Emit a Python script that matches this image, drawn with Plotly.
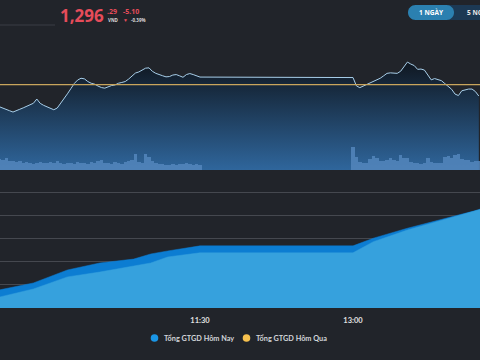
import plotly.graph_objects as go
import pandas as pd

DAY = "2024-01-02 "

# ---------------- data ----------------
ref_price = 1301.39
last_price_int = "1,296"
last_price_dec = ".29"
change_abs = "-5.10"
change_pct = "-0.39%"

morning_times = pd.date_range(DAY + "09:32", DAY + "11:30", freq="2min")
afternoon_times = pd.date_range(DAY + "13:00", DAY + "14:14", freq="2min")

price_morning = [
    1291.52, 1291.03, 1290.50, 1289.75, 1289.17, 1289.92, 1290.41, 1291.03, 1291.61, 1292.28,
    1293.08, 1294.95, 1293.03, 1292.15, 1291.52, 1290.95, 1290.19, 1290.95, 1292.95, 1294.95,
    1297.26, 1299.52, 1301.83, 1303.39, 1304.19, 1303.92, 1302.72, 1301.97, 1301.57, 1300.72,
    1300.06, 1299.79, 1300.50, 1300.95, 1301.21, 1301.97, 1302.32, 1302.72, 1303.83, 1305.26,
    1306.50, 1306.99, 1307.83, 1308.68, 1308.81, 1307.26, 1306.37, 1305.70, 1305.30, 1304.81,
    1304.95, 1305.61, 1305.83, 1305.26, 1304.63, 1305.83, 1306.28, 1305.83, 1305.26, 1304.72,
]
price_afternoon = [
    1304.50, 1300.81, 1300.01, 1300.72, 1301.52, 1302.06, 1302.63, 1303.39, 1304.19, 1305.26,
    1306.37, 1306.59, 1306.37, 1306.37, 1307.30, 1309.61, 1311.39, 1310.50, 1309.83, 1308.15,
    1308.28, 1307.83, 1305.61, 1303.48, 1304.06, 1303.75, 1303.12, 1301.83, 1300.50, 1299.30,
    1297.17, 1296.50, 1298.63, 1299.17, 1299.39, 1299.39, 1298.28, 1296.29,
]
vol_morning = [
    11, 10, 12, 9, 9, 8, 9, 7, 8, 7, 6, 7, 8, 7, 7, 8, 7, 9, 7, 6,
    7, 7, 6, 8, 7, 7, 6, 8, 7, 9, 10, 7, 7, 6, 8, 7, 6, 8, 9, 10,
    16, 8, 7, 16, 13, 9, 7, 6, 6, 5, 5, 6, 5, 6, 6, 7, 6, 5, 6, 5,
]
vol_afternoon = [
    23, 13, 8, 7, 7, 11, 14, 12, 9, 9, 10, 12, 10, 9, 15, 12, 12, 8, 7, 7,
    6, 7, 12, 8, 7, 7, 7, 13, 14, 12, 15, 16, 11, 10, 10, 8, 9, 9,
]

gtgd_times = ["09:32", "09:52", "10:12", "10:31", "10:51", "11:01", "11:11", "11:28",
              "11:30", "13:00", "13:12", "13:32", "13:51", "14:11", "14:15"]
gtgd_hom_nay = [3900, 5400, 8200, 9700, 10550, 11650, 12300, 13350,
                13400, 13400, 15050, 17200, 18950, 20900, 21350]
gtgd_base = [2350, 4100, 6700, 7750, 9050, 9700, 11000, 11850,
             11900, 11900, 14300, 16800, 18750, 20800, 21250]

tick_labels = ["11:30", "13:00"]
legend_names = ["Tổng GTGD Hôm Nay", "Tổng GTGD Hôm Qua"]
legend_colors = ["#1a96e6", "#f7c14e"]

# ---------------- styling ----------------
W, H = 480, 360
BG = "#21242a"
RED = "#e64c5a"
FONT = "Open Sans"
FONT2 = "Lato"


def fx(x):
    return x / W


def fy(y):
    return 1 - y / H


price_times = list(morning_times) + list(afternoon_times)
prices = price_morning + price_afternoon
vol_times = price_times
vols = vol_morning + vol_afternoon
gt_times = [pd.Timestamp(DAY + t) for t in gtgd_times]

x_range = [DAY + "09:32:21", DAY + "14:14:42"]
price_range = [1263.4, 1321.2]

fig = go.Figure()

# price line with gradient fill
fig.add_trace(go.Scatter(
    x=price_times, y=prices, mode="lines",
    line=dict(color="#a8cfea", width=1),
    fill="tozeroy",
    fillgradient=dict(type="vertical",
                      colorscale=[[0, "#2f669c"], [1, "#0f161f"]],
                      start=price_range[0], stop=1312),
    xaxis="x", yaxis="y", showlegend=False, hoverinfo="skip",
))

# volume bars
fig.add_trace(go.Bar(
    x=vol_times, y=vols, width=120000,
    marker=dict(color="rgba(84,134,188,0.85)", line=dict(width=0)),
    xaxis="x", yaxis="y2", showlegend=False, hoverinfo="skip",
))

# lower panel areas
fig.add_trace(go.Scatter(
    x=gt_times, y=gtgd_hom_nay, mode="lines", fill="tozeroy",
    line=dict(color="#0c7dd2", width=0.5), fillcolor="#0c7dd2",
    xaxis="x2", yaxis="y3", showlegend=False, hoverinfo="skip",
))
fig.add_trace(go.Scatter(
    x=gt_times, y=gtgd_base, mode="lines", fill="tozeroy",
    line=dict(color="#36a1dd", width=0.5), fillcolor="#36a1dd",
    xaxis="x2", yaxis="y3", showlegend=False, hoverinfo="skip",
))

shapes = [
    dict(type="line", xref="paper", yref="y", x0=0, x1=1, y0=ref_price, y1=ref_price,
         line=dict(color="#c9a55c", width=1.2)),
    dict(type="line", xref="paper", yref="paper", x0=fx(0), x1=fx(55), y0=fy(25), y1=fy(25),
         line=dict(color="#3a3d44", width=1)),
]


def pill(x0, x1, y0, y1, color):
    r = (y1 - y0) / 2
    k = 0.5523 * r
    yc = (y0 + y1) / 2
    pts = [
        f"M{fx(x0 + r)},{fy(y0)}",
        f"L{fx(x1 - r)},{fy(y0)}",
        f"C{fx(x1 - r + k)},{fy(y0)} {fx(x1)},{fy(yc - k)} {fx(x1)},{fy(yc)}",
        f"C{fx(x1)},{fy(yc + k)} {fx(x1 - r + k)},{fy(y1)} {fx(x1 - r)},{fy(y1)}",
        f"L{fx(x0 + r)},{fy(y1)}",
        f"C{fx(x0 + r - k)},{fy(y1)} {fx(x0)},{fy(yc + k)} {fx(x0)},{fy(yc)}",
        f"C{fx(x0)},{fy(yc - k)} {fx(x0 + r - k)},{fy(y0)} {fx(x0 + r)},{fy(y0)}",
        "Z",
    ]
    return dict(type="path", xref="paper", yref="paper", path=" ".join(pts),
                fillcolor=color, line=dict(width=0), layer="above")


shapes.append(pill(440, 505, 5, 20, "#1c3954"))
shapes.append(pill(408, 454, 5, 20, "#2b80b0"))

# legend markers (circles)
for cx, col in zip([154.5, 246.5], legend_colors):
    shapes.append(dict(type="circle", xref="paper", yref="paper",
                       x0=fx(cx - 3.8), x1=fx(cx + 3.8), y0=fy(338 + 3.8), y1=fy(338 - 3.8),
                       fillcolor=col, line=dict(width=0)))


def ann(text, x, y, size, color, xanchor="left", bold=False, family=FONT):
    font = dict(size=size, color=color, family=family)
    return dict(text=f"<b>{text}</b>" if bold else text, x=fx(x), y=fy(y),
                xref="paper", yref="paper", xanchor=xanchor, yanchor="middle",
                showarrow=False, font=font)


annotations = [
    ann(last_price_int, 58, 16, 17, RED, bold=True),
    ann(last_price_dec, 105, 12, 7, RED, bold=True),
    ann("VND", 106, 20, 4.5, "#d8d8d8", bold=True),
    ann(change_abs, 121, 12, 7, RED, bold=True),
    ann("▼", 121, 20, 5, RED),
    ann(change_pct, 129, 20, 4.5, "#d8d8d8", bold=True),
    ann("1 NGÀY", 431, 12.5, 6.5, "#ffffff", xanchor="center", bold=True),
    ann("5 NGÀY", 465, 12.5, 6.5, "#e6e6e6", bold=True),
    ann(legend_names[0], 162, 338, 7.3, "#d2d5d9", bold=True, family=FONT2),
    ann(legend_names[1], 253.5, 338, 7.3, "#d2d5d9", bold=True, family=FONT2),
]

fig.update_layout(
    width=W, height=H,
    margin=dict(l=0, r=0, t=0, b=0),
    paper_bgcolor=BG, plot_bgcolor=BG,
    font=dict(family=FONT),
    bargap=0,
    showlegend=False,
    shapes=shapes, annotations=annotations,
    xaxis=dict(type="date", range=x_range, domain=[0, 1], anchor="y",
               visible=False, showgrid=False, zeroline=False),
    yaxis=dict(range=price_range, domain=[fy(170), fy(40)], visible=False,
               showgrid=False, zeroline=False),
    yaxis2=dict(range=[0, 130], domain=[fy(170), fy(40)], overlaying="y",
                visible=False, showgrid=False, zeroline=False),
    xaxis2=dict(type="date", range=x_range, domain=[0, 1], anchor="y3",
                tickvals=[pd.Timestamp(DAY + t) for t in tick_labels], ticktext=tick_labels,
                tickfont=dict(size=7.5, color="#e0e0e0", family=FONT2, weight="bold"),
                ticklabelstandoff=6,
                showgrid=False, zeroline=False, showline=False, ticks=""),
    yaxis3=dict(range=[0, 27600], domain=[fy(308), fy(180)], dtick=5000,
                showticklabels=False, showgrid=True, gridcolor="#45484f", gridwidth=1,
                zeroline=False),
)

fig.write_html(
    "out.html",
    config=dict(displayModeBar=False),
    post_script="document.body.style.margin='0';document.body.style.padding='0';"
                "document.body.style.overflow='hidden';",
)
